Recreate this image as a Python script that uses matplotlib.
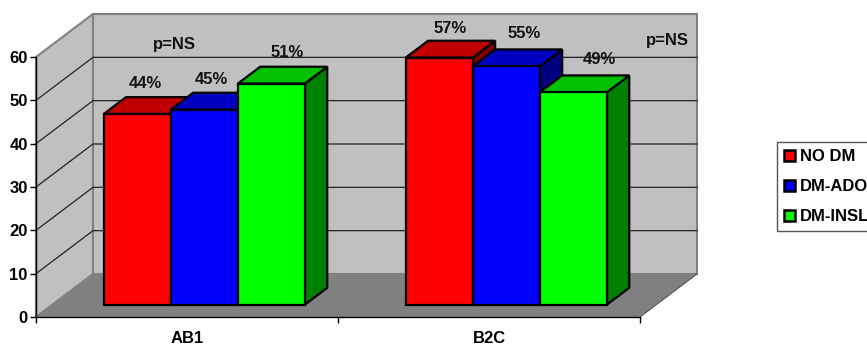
import matplotlib
matplotlib.use('Agg')
import matplotlib.pyplot as plt
from matplotlib.patches import Patch, Polygon

plt.rcParams['font.family'] = ['Liberation Sans', 'DejaVu Sans']
plt.rcParams['font.weight'] = 'bold'
plt.rcParams['font.size'] = 12

categories = ['AB1', 'B2C']
series_names = ['NO DM', 'DM-ADO', 'DM-INSL']
no_dm = [44, 57]
dm_ado = [45, 55]
dm_insl = [51, 49]
y_ticks = [0, 10, 20, 30, 40, 50, 60]

front_colors = ['#ff0000', '#0000ff', '#00ff00']
top_colors = ['#c00000', '#0000c0', '#00c000']
side_colors = ['#800000', '#000080', '#008000']

W, H = 867, 346
# front plane of the box in pixels
LEFT, RIGHT, BOTTOM, TOP = 36, 640, 317, 57
# how far the back wall is shifted, in data units
DX = 57 / (RIGHT - LEFT) * 2
DY = 43 / (BOTTOM - TOP) * 60

# bar layout inside one category
BAR_START = 0.17
BAR_W = 0.222
DEPTH_FRONT = 0.29
DEPTH_BACK = 0.68

fig = plt.figure(figsize=(W / 100, H / 100), dpi=100)
ax = fig.add_axes([LEFT / W, 1 - BOTTOM / H, (RIGHT - LEFT) / W, (BOTTOM - TOP) / H])
ax.set_xlim(0, 2)
ax.set_ylim(0, 60)
ax.patch.set_visible(False)


# oblique projection: x, value and depth (0 front, 1 back) to data coords
def proj(x, v, d=0.0):
    return (x + d * DX, v + d * DY)


def poly(points, color, edge='none', lw=0.0, z=1):
    ax.add_patch(Polygon(points, closed=True, facecolor=color, edgecolor=edge,
                         linewidth=lw, joinstyle='miter', clip_on=False, zorder=z))


# walls and floor
poly([proj(0, 0, 0), proj(0, 60, 0), proj(0, 60, 1), proj(0, 0, 1)], '#c0c0c0', '#808080', 1.5)
poly([proj(0, 0, 1), proj(0, 60, 1), proj(2, 60, 1), proj(2, 0, 1)], '#c0c0c0', '#808080', 1.5)
poly([proj(0, 0, 0), proj(2, 0, 0), proj(2, 0, 1), proj(0, 0, 1)], '#808080', z=1.5)
ax.plot(*zip(proj(2, 0, 0), proj(2, 0, 1)), color='#555555', lw=0.8, clip_on=False, zorder=1.6)

# gridlines run across the left wall and along the back wall
for t in y_ticks[1:-1]:
    pts = [proj(0, t, 0), proj(0, t, 1), proj(2, t, 1)]
    ax.plot(*zip(*pts), color='#222222', lw=0.9, clip_on=False, zorder=2)

# bars, left to right so the later ones cover the earlier ones
z = 3
for i, values in enumerate(zip(no_dm, dm_ado, dm_insl)):
    for j, v in enumerate(values):
        x0 = i + BAR_START + j * BAR_W
        x1 = x0 + BAR_W
        a, b = DEPTH_FRONT, DEPTH_BACK
        poly([proj(x1, 0, a), proj(x1, v, a), proj(x1, v, b), proj(x1, 0, b)],
             side_colors[j], 'black', 1.6, z)
        poly([proj(x0, v, a), proj(x1, v, a), proj(x1, v, b), proj(x0, v, b)],
             top_colors[j], 'black', 1.6, z)
        poly([proj(x0, 0, a), proj(x1, 0, a), proj(x1, v, a), proj(x0, v, a)],
             front_colors[j], 'black', 1.6, z)
        z += 1

# value labels sit above the back edge of each bar top, nudged in pixels
nudges = [[(-14, 14), (-15, 13), (-7, 14)], [(-11, 12), (-5, 16), (4, 16)]]
for i, values in enumerate(zip(no_dm, dm_ado, dm_insl)):
    for j, v in enumerate(values):
        xc = i + BAR_START + (j + 0.5) * BAR_W
        ax.annotate(f'{v}%', xy=proj(xc, v, DEPTH_BACK), annotation_clip=False,
                    xytext=(nudges[i][j][0] * 0.72, nudges[i][j][1] * 0.72),
                    textcoords='offset points', ha='center', va='center',
                    color='#111111', zorder=20)

ax.text(0.46, 63.0, 'p=NS', ha='center', va='center', color='#111111', zorder=20)
ax.text(2.09, 63.7, 'p=NS', ha='center', va='center', color='#111111', zorder=20)

# axes
for s in ['top', 'right']:
    ax.spines[s].set_visible(False)
for s in ['left', 'bottom']:
    ax.spines[s].set_linewidth(1.0)
    ax.spines[s].set_zorder(2.5)
ax.set_yticks(y_ticks)
ax.set_xticks([0, 1, 2])
ax.set_xticklabels([])
ax.set_xticks([0.5, 1.5], labels=categories, minor=True)
ax.tick_params(axis='y', length=4, width=1, pad=2)
ax.tick_params(axis='x', which='major', length=4, width=1)
ax.tick_params(axis='x', which='minor', length=0, pad=10)

handles = [Patch(facecolor=c, edgecolor='black', linewidth=1.8) for c in front_colors]
leg = fig.legend(handles, series_names, loc='upper left',
                 bbox_to_anchor=(777 / W, 1 - 142 / H),
                 borderaxespad=0, fancybox=False, edgecolor='#555555', framealpha=1,
                 handlelength=0.66, handleheight=0.66, handletextpad=0.3,
                 borderpad=0.42, labelspacing=0.9)
leg.get_frame().set_linewidth(1.0)

fig.savefig('out.png', dpi=100)
